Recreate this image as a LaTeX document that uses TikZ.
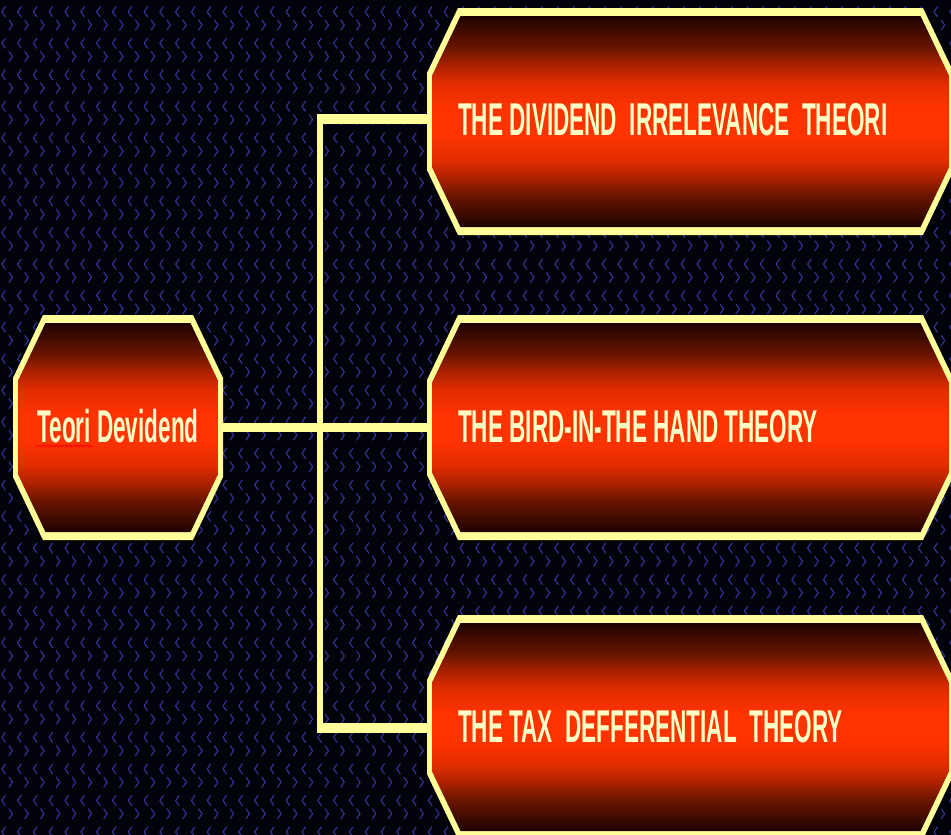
\documentclass[tikz,border=0pt]{standalone}
\usepackage{fontspec}
\usepackage{graphicx}
\setmainfont{Liberation Sans}
\usetikzlibrary{calc,decorations.pathmorphing}
\definecolor{bg}{HTML}{02020A}
\definecolor{chev}{HTML}{34349C}
\definecolor{bord}{HTML}{FFFF99}
\definecolor{txt}{HTML}{FFFFC8}
\definecolor{sA}{HTML}{1E0200}
\definecolor{sB}{HTML}{6A1500}
\definecolor{sC}{HTML}{B02200}
\definecolor{sD}{HTML}{E22D00}
\definecolor{sE}{HTML}{FF3300}
\pgfdeclareverticalshading{octfill}{100bp}{color(0bp)=(sA); color(25bp)=(sA); color(32.5bp)=(sB); color(37bp)=(sC); color(41bp)=(sD); color(47bp)=(sE); color(53bp)=(sE); color(59bp)=(sD); color(63bp)=(sC); color(67.5bp)=(sB); color(75bp)=(sA); color(100bp)=(sA)}
\newcommand{\octa}[3]{%
  \fill[bord] ($(#1.north west)+(#2,0)$) -- ($(#1.north east)+(-#2,0)$) -- ($(#1.north east)+(0,#3)$) -- ($(#1.south east)+(0,-#3)$) -- ($(#1.south east)+(-#2,0)$) -- ($(#1.south west)+(#2,0)$) -- ($(#1.south west)+(0,-#3)$) -- ($(#1.north west)+(0,#3)$) -- cycle;
  \shade[shading=octfill] ($(#1.north west)+(#2+2.5,8)$) -- ($(#1.north east)+(-#2-2.5,8)$) -- ($(#1.north east)+(-5,#3+2.7)$) -- ($(#1.south east)+(-5,-#3-2.7)$) -- ($(#1.south east)+(-#2-2.5,-8)$) -- ($(#1.south west)+(#2+2.5,-8)$) -- ($(#1.south west)+(5,-#3-2.7)$) -- ($(#1.north west)+(5,#3+2.7)$) -- cycle;
}
\tikzset{
  boxnode/.style={rectangle, inner sep=0pt, outer sep=0pt, anchor=north west},
  lbl/.style={text=txt, font=\fontsize{46}{46}\selectfont\bfseries, inner sep=0pt, anchor=west},
  hline/.style={draw=bord, line width=9.5},
  vline/.style={draw=bord, line width=6, shorten <=-4.75, shorten >=-4.75},
}
\begin{document}
\begin{tikzpicture}[x=1pt,y=-1pt]
\useasboundingbox (0,0) rectangle (951,835);
\clip (0,0) rectangle (951,835);
\fill[bg] (0,0) rectangle (951,835);
\draw[chev, line width=1.1, line cap=round, line join=round]
  foreach \i in {0,...,60} { foreach \j in {0,...,26} {
    ({3.3+15.8*\i+2},{11.7+31.55*\j-5}) -- ({3.3+15.8*\i-1.5},{11.7+31.55*\j}) -- ({3.3+15.8*\i+2},{11.7+31.55*\j+5})
    ({11+15.8*\i-2},{25+31.55*\j-5}) -- ({11+15.8*\i+1.5},{25+31.55*\j}) -- ({11+15.8*\i-2},{25+31.55*\j+5})
  } };
% box nodes
\node[boxnode, minimum width=210, minimum height=225] (root) at (13,315) {};
\node[boxnode, minimum width=527, minimum height=227] (b1) at (427,8) {};
\node[boxnode, minimum width=527, minimum height=225] (b2) at (427,315) {};
\node[boxnode, minimum width=527, minimum height=224] (b3) at (427,615) {};
% connectors
\coordinate (jt) at (317,119);
\coordinate (jb) at (317,728);
\draw[vline] ([xshift=3]jt) -- ([xshift=3]jb);
\draw[hline] (jt) -- (jt -| b1.west);
\draw[hline] (jb) -- (jb -| b3.west);
\draw[hline] (root.east) -- (root.east -| b2.west);
% octagons
\octa{root}{30}{63}
\octa{b1}{31}{65}
\octa{b2}{31}{65}
\octa{b3}{31}{65}
% labels
\node[lbl, anchor=center] (t0) at (118,426) {\scalebox{0.49}[1]{Teori Devidend}};
\node[lbl] (t1) at (458,120) {\scalebox{0.49}[1]{THE DIVIDEND~~IRRELEVANCE~~THEORI}};
\node[lbl] (t2) at (458,427) {\scalebox{0.49}[1]{THE BIRD-IN-THE HAND THEORY}};
\node[lbl] (t3) at (458,727) {\scalebox{0.49}[1]{THE TAX~~DEFFERENTIAL~~THEORY}};
\draw[red, line width=0.7, decorate, decoration={snake, amplitude=0.9, segment length=3}] (35,446) -- (93,446);
\end{tikzpicture}
\end{document}
